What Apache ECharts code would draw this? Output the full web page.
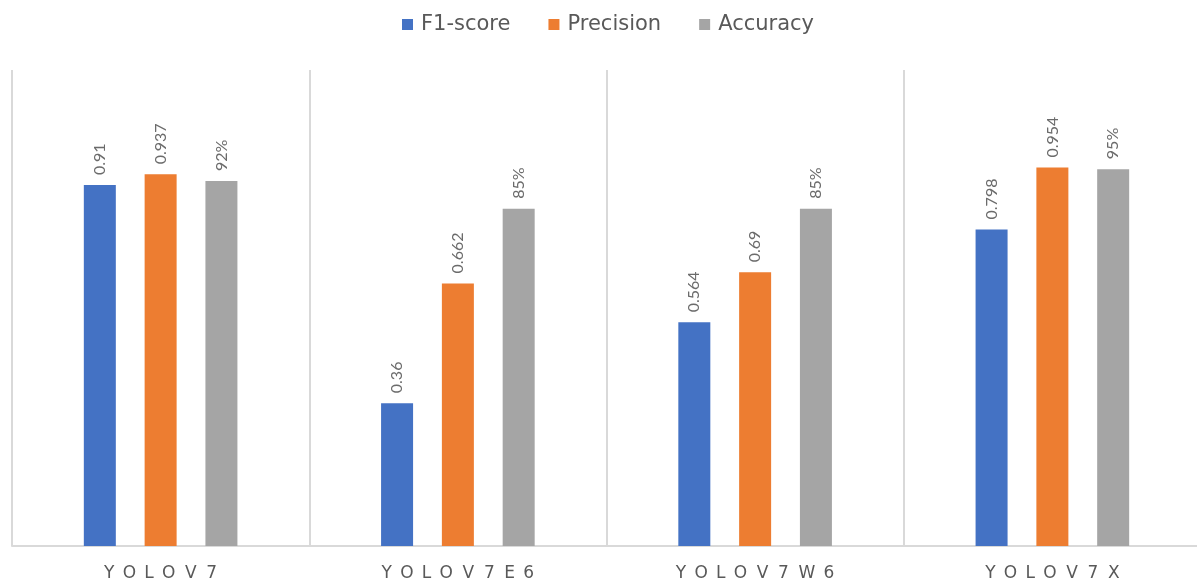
<!DOCTYPE html>
<html><head><meta charset="utf-8">
<script src="https://cdn.jsdelivr.net/npm/echarts@6/dist/echarts.min.js"></script>
<style>html,body{margin:0;padding:0;background:#fff}#c{width:1197px;height:582px}</style>
</head><body><div id="c"></div>
<script>
const categories = ['YOLO V 7', 'YOLO V 7 E6', 'YOLO V 7 W6', 'YOLO V 7 X'];
const f1Score = [0.91, 0.36, 0.564, 0.798];
const precision = [0.937, 0.662, 0.69, 0.954];
const accuracy = [0.92, 0.85, 0.85, 0.95];

const spaced = s => s.split(' ').map(w => w.split('').join(' \u2006')).join(' \u2005');
const chart = echarts.init(document.getElementById('c'));
const lbl = (fmt) => ({
  show: true, position: 'top', rotate: 90, align: 'left', verticalAlign: 'middle',
  distance: 10, color: '#6b6b6b', fontSize: 16, fontFamily: 'Lato', formatter: fmt
});
chart.setOption({
  animation: false,
  textStyle: { fontFamily: 'DejaVu Sans' },
  legend: {
    top: 9, left: 397, itemWidth: 11, itemHeight: 11, itemGap: 38,
    icon: 'rect',
    textStyle: { color: '#595959', fontSize: 21, fontFamily: 'DejaVu Sans', padding: [0, 0, 0, 3] },
    data: ['F1-score', 'Precision', 'Accuracy']
  },
  grid: { left: 12, width: 1189, top: 70, bottom: 36, outerBoundsMode: 'none', containLabel: false },
  xAxis: {
    type: 'category', data: categories,
    axisLine: { lineStyle: { color: '#d9d9d9', width: 2 } },
    axisTick: { show: false },
    splitLine: { show: true, lineStyle: { color: '#d9d9d9', width: 2 } },
    axisLabel: { color: '#595959', fontSize: 17, fontFamily: 'DejaVu Sans', margin: 19, formatter: v => spaced(v) }
  },
  yAxis: { type: 'value', min: 0, max: 1.2, show: false, splitLine: { show: false } },
  series: [
    { name: 'F1-score', type: 'bar', data: f1Score, barWidth: 32, barGap: '90%',
      itemStyle: { color: '#4472c4' }, label: lbl(p => String(p.value)) },
    { name: 'Precision', type: 'bar', data: precision, barWidth: 32, barGap: '90%',
      itemStyle: { color: '#ed7d31' }, label: lbl(p => String(p.value)) },
    { name: 'Accuracy', type: 'bar', data: accuracy, barWidth: 32, barGap: '90%',
      itemStyle: { color: '#a5a5a5' }, label: lbl(p => Math.round(p.value * 100) + '%') }
  ]
});
</script></body></html>
